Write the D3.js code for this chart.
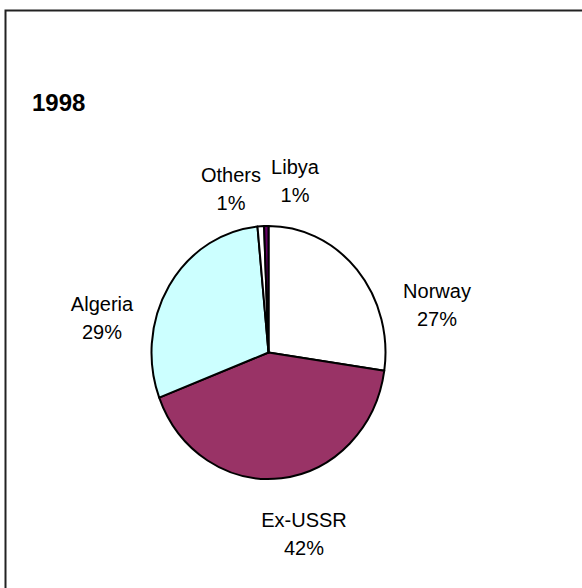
<!DOCTYPE html>
<html>
<head>
<meta charset="utf-8">
<script src="https://cdn.jsdelivr.net/npm/d3@7"></script>
<style>
  html, body { margin: 0; padding: 0; background: #fff; }
  svg { display: block; }
  text { font-family: "Liberation Sans", Arial, sans-serif; fill: #000; }
</style>
</head>
<body>
<svg id="chart" width="582" height="588"></svg>
<script>
// ---- data ----
const title = "1998";
const categories = ["Norway", "Ex-USSR", "Algeria", "Others", "Libya"];
const values = [27.3, 41.9, 29.3, 0.9, 0.6];
const colors = ["#FFFFFF", "#993366", "#CCFFFF", "#FFFFFF", "#660066"];
// label anchor points (centre x, first-line baseline)
const labelX = [437, 304, 102, 231, 295];
const labelY = [298, 527, 311, 182, 174];

const svg = d3.select("#chart");

// frame
svg.append("rect")
  .attr("x", 5.5).attr("y", 10.5)
  .attr("width", 600).attr("height", 600)
  .attr("fill", "none").attr("stroke", "#222").attr("stroke-width", 2);

// title
svg.append("text")
  .attr("x", 32).attr("y", 111)
  .attr("font-size", 24).attr("font-weight", "bold")
  .text(title);

// pie
const cx = 268.5, cy = 352.5, rx = 117, ry = 126.5;
const data = categories.map((c, i) => ({ name: c, value: values[i], color: colors[i] }));
const pie = d3.pie().sort(null).value(d => d.value);
const arcs = pie(data);
const arc = d3.arc().innerRadius(0).outerRadius(100);

const g = svg.append("g")
  .attr("transform", `translate(${cx},${cy}) scale(${rx / 100},${ry / 100})`);

g.selectAll("path")
  .data(arcs)
  .join("path")
  .attr("d", arc)
  .attr("fill", d => d.data.color)
  .attr("stroke", "#000")
  .attr("stroke-width", 2)
  .attr("vector-effect", "non-scaling-stroke")
  .attr("stroke-linejoin", "round");

// labels
const total = d3.sum(values);
const labels = svg.append("g");
arcs.forEach((a, i) => {
  const t = labels.append("text")
    .attr("text-anchor", "middle")
    .attr("font-size", 20);
  t.append("tspan").attr("x", labelX[i]).attr("y", labelY[i]).text(a.data.name);
  t.append("tspan").attr("x", labelX[i]).attr("y", labelY[i] + 28)
    .text(Math.round(a.data.value / total * 100) + "%");
});
</script>
</body>
</html>
